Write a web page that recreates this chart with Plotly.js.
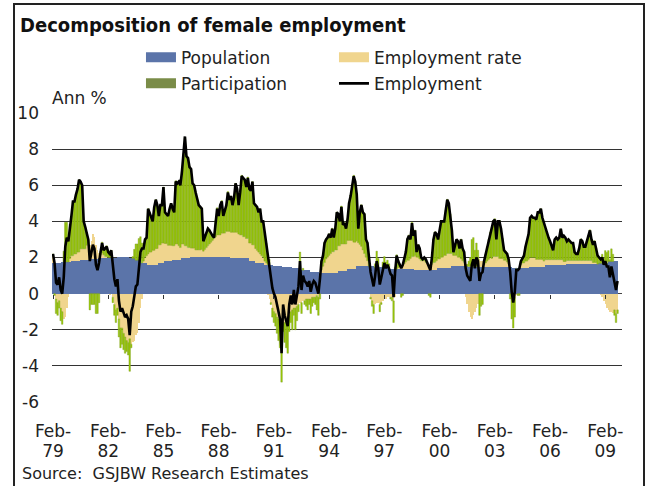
<!DOCTYPE html>
<html><head><meta charset="utf-8">
<script src="https://cdn.plot.ly/plotly-3.0.1.min.js"></script>
<style>
html,body{margin:0;padding:0;background:#fff;}
#chart{width:646px;height:486px;}
#frame{position:absolute;left:13px;top:3px;width:632px;height:600px;border:2px solid #222;box-sizing:border-box;pointer-events:none;}
</style></head><body>
<div id="chart"></div>
<div id="frame"></div>
<script>
const startYear = 1979;
const monthNames = ['Jan','Feb','Mar','Apr','May','Jun','Jul','Aug','Sep','Oct','Nov','Dec'];
const tickCats = ['Feb-79','Feb-82','Feb-85','Feb-88','Feb-91','Feb-94','Feb-97','Feb-00','Feb-03','Feb-06','Feb-09'];
const tickMonths = ['Feb-','Feb-','Feb-','Feb-','Feb-','Feb-','Feb-','Feb-','Feb-','Feb-','Feb-'];
const tickYears = ['79','82','85','88','91','94','97','00','03','06','09'];
const yTickVals = [-6,-4,-2,0,2,4,6,8,10];
const yTickText = ['-6','-4','-2','0','2','4','6','8','10'];

// Employment, annual % (monthly, Feb-79 .. Oct-09)
const employment = [
2.2,1.7,0.6,0.5,0.9,0.2,0.0,0.9,2.6,3.1,2.9,3.8,
4.3,5.1,5.1,5.5,5.8,6.3,6.2,6.0,4.0,3.7,3.4,3.0,
1.8,2.3,2.7,2.5,1.6,1.3,1.7,2.3,2.8,2.4,2.5,2.6,
2.3,2.2,2.4,1.5,0.8,0.4,0.8,-0.4,-1.0,-0.8,-1.1,-1.3,
-1.2,-1.4,-2.3,-1.0,-0.7,-0.2,0.4,0.5,1.4,2.3,2.5,2.5,
3.0,3.1,4.7,4.5,4.3,4.0,4.8,5.2,4.9,4.3,4.9,4.9,
5.9,4.5,4.4,4.3,4.7,5.0,4.7,4.5,6.2,6.1,6.2,6.0,
6.7,7.8,8.7,7.6,7.5,7.0,6.9,6.1,6.0,5.6,5.2,4.9,
4.8,4.7,2.9,3.1,3.3,3.6,3.5,3.3,3.2,3.1,4.0,4.7,
4.3,4.9,5.1,4.3,4.6,4.9,5.6,5.2,5.4,4.9,5.3,6.1,
5.8,4.9,5.6,6.5,6.4,6.3,5.9,6.4,5.8,5.7,6.2,5.0,
4.9,4.8,4.5,4.7,4.0,4.0,3.4,2.8,2.0,1.6,1.0,0.3,
0.0,-0.2,-0.6,-1.0,-1.4,-3.3,-0.6,-1.2,-1.5,-1.8,-0.6,-0.1,
-0.6,0.2,-0.6,-0.1,0.4,1.8,0.2,1.0,0.7,0.6,0.4,0.7,
0.1,0.5,0.7,0.6,0.3,0.0,0.8,1.8,2.1,2.8,3.0,3.1,
3.3,3.1,3.6,3.1,3.6,4.5,4.4,4.0,4.8,3.8,3.9,3.6,
4.1,5.0,5.4,6.0,6.5,6.2,5.5,3.6,4.5,4.9,4.5,4.4,
3.0,2.8,1.9,1.2,0.8,0.4,1.0,1.8,1.4,0.5,0.9,1.3,
1.7,1.4,1.6,1.4,1.1,1.0,-0.2,1.2,2.1,1.8,1.6,1.4,
1.6,1.9,2.3,3.0,3.2,3.0,3.9,3.2,3.5,2.3,2.7,2.5,
2.0,1.9,2.0,1.9,1.7,1.5,1.3,2.0,3.0,3.4,3.3,3.0,
3.4,4.0,4.0,4.0,4.6,5.2,5.0,4.4,3.5,2.3,2.7,3.0,
2.9,2.5,3.0,2.5,2.3,1.4,1.0,0.8,0.7,1.6,1.9,1.4,
2.0,1.8,0.7,1.1,1.2,1.8,2.2,2.6,3.0,3.4,3.6,4.0,
4.1,3.0,4.0,4.0,3.6,3.0,2.4,2.3,2.2,1.9,1.2,0.1,
-0.5,0.1,1.3,1.3,1.4,1.8,2.0,2.1,2.6,2.9,3.3,4.2,
4.3,4.2,4.2,4.1,4.5,4.5,4.7,4.2,3.9,3.6,3.3,3.1,
2.9,2.6,2.4,3.0,3.1,3.0,3.1,3.6,3.1,3.2,3.1,2.9,
3.0,2.9,2.8,2.8,2.3,2.2,2.2,2.5,3.0,2.9,2.6,2.6,
2.9,3.2,3.5,3.0,2.7,2.9,2.5,2.1,2.0,1.9,2.0,1.6,
1.8,1.5,1.5,0.9,1.5,1.1,0.6,0.2,0.7];

// Population contribution
const population = [
1.70,1.70,1.70,1.70,1.70,1.70,1.75,1.75,1.75,1.75,1.75,1.75,
1.80,1.80,1.80,1.80,1.80,1.80,1.88,1.88,1.88,1.88,1.88,1.88,
1.92,1.92,1.92,1.92,1.92,1.92,1.95,1.95,1.95,1.95,1.95,1.95,
2.00,2.00,2.00,2.00,2.00,2.00,2.03,2.03,2.03,2.03,2.03,2.03,
2.03,2.03,1.95,1.95,1.95,1.95,1.85,1.85,1.85,1.85,1.70,1.70,
1.70,1.70,1.60,1.60,1.60,1.60,1.60,1.60,1.60,1.70,1.70,1.70,
1.70,1.78,1.78,1.78,1.78,1.78,1.85,1.85,1.85,1.85,1.85,1.85,
1.95,1.95,1.95,1.95,1.95,1.95,2.02,2.02,2.02,2.02,2.02,2.02,
2.02,2.05,2.05,2.05,2.05,2.05,2.05,2.05,2.05,2.05,2.05,2.05,
2.05,2.05,2.05,2.05,2.05,2.05,2.05,2.05,2.00,2.00,2.00,2.00,
2.00,2.00,1.95,1.95,1.95,1.95,1.95,1.95,1.80,1.80,1.80,1.80,
1.70,1.70,1.70,1.70,1.70,1.70,1.60,1.60,1.60,1.60,1.60,1.60,
1.55,1.55,1.55,1.55,1.55,1.55,1.50,1.50,1.50,1.50,1.50,1.50,
1.40,1.40,1.40,1.40,1.40,1.40,1.30,1.30,1.30,1.30,1.30,1.30,
1.20,1.20,1.20,1.20,1.20,1.20,1.12,1.12,1.12,1.12,1.12,1.12,
1.12,1.12,1.12,1.12,1.12,1.12,1.25,1.25,1.25,1.25,1.25,1.25,
1.35,1.35,1.35,1.35,1.35,1.35,1.52,1.52,1.52,1.52,1.52,1.52,
1.52,1.52,1.52,1.52,1.52,1.52,1.45,1.45,1.45,1.45,1.45,1.45,
1.45,1.45,1.45,1.45,1.35,1.35,1.35,1.35,1.35,1.35,1.35,1.35,
1.35,1.35,1.35,1.35,1.35,1.35,1.35,1.35,1.32,1.32,1.32,1.32,
1.32,1.32,1.32,1.32,1.32,1.32,1.32,1.32,1.32,1.32,1.32,1.42,
1.42,1.42,1.42,1.42,1.42,1.42,1.42,1.42,1.52,1.52,1.52,1.52,
1.52,1.52,1.52,1.52,1.52,1.52,1.52,1.50,1.50,1.50,1.50,1.50,
1.50,1.50,1.50,1.50,1.50,1.50,1.50,1.50,1.50,1.50,1.45,1.45,
1.45,1.45,1.45,1.45,1.45,1.45,1.45,1.45,1.45,1.45,1.45,1.45,
1.40,1.40,1.40,1.40,1.40,1.40,1.40,1.40,1.40,1.40,1.40,1.50,
1.50,1.50,1.50,1.50,1.50,1.50,1.50,1.50,1.50,1.58,1.58,1.58,
1.58,1.58,1.58,1.58,1.58,1.58,1.58,1.58,1.58,1.58,1.58,1.63,
1.63,1.63,1.63,1.63,1.63,1.63,1.63,1.63,1.63,1.63,1.63,1.63,
1.63,1.63,1.63,1.63,1.63,1.63,1.63,1.63,1.68,1.68,1.68,1.68,
1.68,1.68,1.78,1.78,1.78,1.78,1.78,1.78,1.78];

// Employment-rate contribution
const employmentRate = [
0.4,0.1,-0.3,-0.5,-0.4,-0.8,-1.0,-1.4,-1.3,-0.8,-0.2,0.2,
0.3,0.3,0.4,0.4,0.5,0.5,0.6,0.6,0.6,0.6,0.8,0.9,
0.8,1.0,1.4,1.2,0.8,0.5,0.3,0.2,0.3,0.2,0.1,0.1,
0.0,-0.1,0.0,-0.2,-0.6,-0.9,-0.8,-1.4,-1.9,-1.9,-2.2,-2.4,
-2.6,-2.7,-2.5,-2.8,-2.7,-2.6,-2.3,-2.2,-1.6,-0.8,-0.3,0.1,
0.3,0.4,0.6,0.7,0.7,0.8,0.8,0.9,0.9,1.0,1.0,1.1,
1.1,1.0,1.0,0.9,0.9,0.9,0.8,0.8,0.9,0.9,0.8,0.7,
0.8,0.8,0.7,0.7,0.6,0.6,0.5,0.5,0.5,0.4,0.4,0.4,
0.4,0.4,0.3,0.4,0.5,0.6,0.7,0.8,0.9,1.0,1.1,1.2,
1.2,1.2,1.3,1.3,1.3,1.4,1.4,1.4,1.4,1.4,1.4,1.4,
1.4,1.3,1.3,1.3,1.2,1.2,1.1,1.1,1.0,1.0,0.9,0.9,
0.8,0.7,0.6,0.5,0.4,0.3,0.2,0.1,-0.1,-0.3,-0.5,-0.8,
-1.0,-1.1,-1.3,-1.4,-1.6,-1.7,-1.7,-1.6,-1.5,-1.4,-1.2,-1.0,
-0.9,-0.8,-0.8,-0.7,-0.6,-0.5,-0.5,-0.4,-0.4,-0.3,-0.3,-0.3,
-0.3,-0.2,-0.2,-0.2,-0.1,-0.2,0.0,0.2,0.4,0.6,0.8,0.9,
1.0,1.1,1.2,1.2,1.3,1.3,1.4,1.4,1.5,1.5,1.5,1.5,
1.6,1.6,1.6,1.6,1.5,1.5,1.4,1.3,1.2,1.1,0.9,0.7,
0.5,0.3,0.0,-0.2,-0.4,-0.6,-0.6,-0.5,-0.5,-0.6,-0.5,-0.4,
-0.3,-0.3,-0.2,-0.2,-0.2,-0.2,-0.4,-0.2,0.0,0.1,0.2,0.2,
0.3,0.3,0.4,0.5,0.5,0.6,0.7,0.7,0.8,0.7,0.7,0.6,
0.5,0.5,0.5,0.4,0.4,0.3,0.2,0.3,0.4,0.4,0.5,0.5,
0.5,0.6,0.6,0.7,0.7,0.8,0.8,0.8,0.7,0.6,0.6,0.6,
0.5,0.5,0.4,0.3,0.2,-0.2,-0.6,-1.0,-1.3,-1.4,-1.2,-1.0,
-0.8,-0.6,0.4,0.3,0.3,0.1,0.2,0.3,0.4,0.5,0.5,0.6,
0.6,0.6,0.6,0.5,0.5,0.5,0.4,0.4,0.3,0.2,0.0,-0.2,
-0.3,-0.2,-0.1,0.0,0.1,0.2,0.3,0.3,0.4,0.4,0.5,0.5,
0.5,0.5,0.5,0.4,0.4,0.4,0.4,0.4,0.3,0.3,0.3,0.3,
0.3,0.3,0.3,0.3,0.3,0.3,0.3,0.3,0.3,0.2,0.2,0.2,
0.2,0.2,0.2,0.2,0.2,0.2,0.2,0.2,0.2,0.2,0.2,0.2,
0.2,0.2,0.2,0.2,0.1,0.1,0.1,0.0,0.0,-0.1,-0.2,-0.4,
-0.6,-0.8,-0.9,-1.0,-1.0,-1.1,-0.9,-1.1,-0.9];

// Participation contribution
const participation = [
0.1,-0.1,-0.8,-0.7,-0.4,-0.7,-0.7,0.6,2.2,2.2,1.4,1.9,
2.2,3.0,2.9,3.3,3.5,4.0,3.7,3.5,1.5,1.2,0.7,0.2,
-0.9,-0.6,-0.6,-0.6,-1.1,-1.1,-0.5,0.2,0.6,0.3,0.5,0.6,
0.3,0.3,0.4,-0.3,-0.6,-0.7,-0.4,-1.0,-1.1,-0.9,-0.9,-0.9,
-0.6,-0.7,-1.8,-0.2,0.1,0.5,0.9,0.9,1.2,1.3,1.1,0.7,
1.0,1.0,2.5,2.2,2.0,1.6,2.4,2.7,2.4,1.6,2.2,2.1,
3.1,1.7,1.6,1.6,2.0,2.3,2.1,1.9,3.5,3.4,3.6,3.5,
4.0,5.0,6.0,5.0,5.0,4.5,4.4,3.6,3.5,3.2,2.8,2.5,
2.4,2.3,0.6,0.7,0.8,1.0,0.8,0.5,0.3,0.1,0.9,1.5,
1.1,1.7,1.8,1.0,1.3,1.5,2.2,1.8,2.0,1.5,1.9,2.7,
2.4,1.6,2.4,3.3,3.3,3.2,2.9,3.4,3.0,2.9,3.5,2.3,
2.4,2.4,2.2,2.5,1.9,2.0,1.6,1.1,0.5,0.3,-0.1,-0.5,
-0.6,-0.7,-0.9,-1.2,-1.4,-3.2,-0.4,-1.1,-1.5,-1.9,-0.9,-0.6,
-1.1,-0.4,-1.2,-0.8,-0.4,0.9,-0.6,0.1,-0.2,-0.4,-0.6,-0.3,
-0.8,-0.5,-0.3,-0.4,-0.8,-1.0,-0.3,0.5,0.6,1.1,1.1,1.1,
1.2,0.9,1.3,0.8,1.2,2.1,1.8,1.4,2.1,1.1,1.2,0.9,
1.2,2.1,2.5,3.1,3.7,3.4,2.6,0.8,1.8,2.3,2.1,2.2,
1.0,1.0,0.4,-0.1,-0.3,-0.5,0.2,0.9,0.5,-0.4,-0.1,0.3,
0.6,0.3,0.4,0.2,-0.1,-0.2,-1.2,0.1,0.8,0.4,0.1,-0.2,
-0.1,0.3,0.6,1.2,1.4,1.1,1.9,1.2,1.4,0.3,0.7,0.6,
0.2,0.1,0.2,0.2,0.0,-0.1,-0.2,0.4,1.3,1.7,1.5,1.1,
1.5,2.0,2.0,1.9,2.5,3.0,2.8,2.2,1.3,0.2,0.6,0.9,
0.9,0.5,1.1,0.7,0.6,0.1,0.1,0.3,0.5,1.5,1.6,0.9,
1.3,0.9,-1.2,-0.7,-0.6,0.2,0.5,0.8,1.1,1.4,1.7,2.0,
2.1,1.0,2.0,2.1,1.7,1.1,0.6,0.5,0.5,0.3,-0.3,-1.2,
-1.6,-1.1,0.0,-0.1,-0.1,0.2,0.3,0.4,0.8,1.1,1.4,2.2,
2.3,2.2,2.2,2.2,2.6,2.6,2.8,2.3,2.1,1.7,1.4,1.2,
1.0,0.7,0.5,1.1,1.2,1.1,1.2,1.7,1.2,1.4,1.3,1.1,
1.2,1.1,1.0,1.0,0.5,0.4,0.4,0.7,1.2,1.1,0.8,0.8,
1.1,1.4,1.7,1.2,1.0,1.2,0.8,0.5,0.3,0.3,0.5,0.3,
0.7,0.6,0.6,0.1,0.7,0.4,-0.3,-0.5,-0.2];

// Month categories Feb-79 onward
const months = employment.map((_, i) => {
  const t = 1 + i; // Feb = index 1
  const mi = t % 12;
  const yr = startYear + Math.floor(t / 12);
  return monthNames[mi] + '-' + String(yr).slice(2);
});
const tickIdx = tickCats.map(c => months.indexOf(c));

const FONT = 'DejaVu Sans, Verdana, sans-serif';
const BLUE = '#5b74a9', TAN = '#f0d58e', OLIVE = '#7a8c48', LIME = '#99cc00';
const xr = [-0.65, 370.9];

const traces = [
  {type:'bar', x:months, y:population, name:'Population', marker:{color:BLUE}, showlegend:false, hoverinfo:'skip'},
  {type:'bar', x:months, y:employmentRate, name:'Employment rate', marker:{color:TAN}, showlegend:false, hoverinfo:'skip'},
  {type:'bar', x:months, y:participation, name:'Participation', marker:{color:LIME, line:{color:'#7f9a2c', width:0.4}}, showlegend:false, hoverinfo:'skip'},
  {type:'scatter', mode:'lines', x:[null], y:[null], xaxis:'x3', name:'Population', line:{color:BLUE, width:10}, legend:'legend'},
  {type:'scatter', mode:'lines', x:[null], y:[null], xaxis:'x3', name:'Employment rate', line:{color:TAN, width:10}, legend:'legend2'},
  {type:'scatter', mode:'lines', x:[null], y:[null], xaxis:'x3', name:'Participation', line:{color:OLIVE, width:10}, legend:'legend3'},
  {type:'scatter', mode:'lines', x:months, y:employment, xaxis:'x2', name:'Employment', line:{color:'#000', width:2.6}, legend:'legend4'}
];

const legFont = {family:FONT, size:17, color:'#222'};
const mkLeg = (x, y) => ({x:x, y:y, xanchor:'left', yanchor:'middle', bgcolor:'rgba(0,0,0,0)', font:legFont, borderwidth:0});
const tickFont = {family:FONT, size:17, color:'#222'};

const layout = {
  width:646, height:486,
  paper_bgcolor:'#fff', plot_bgcolor:'#fff',
  margin:{l:52, r:24, t:113, b:84},
  barmode:'relative', bargap:0,
  title:{text:'Decomposition of female employment', font:{family:'DejaVu Sans Condensed, DejaVu Sans, sans-serif', size:20, color:'#111', weight:'bold'},
         x:20/646, xref:'container', xanchor:'left', y:1-25/486, yref:'container', yanchor:'middle'},
  xaxis:{type:'category', range:xr, tickmode:'array', tickvals:tickCats, ticktext:tickMonths,
         showgrid:false, zeroline:false, showline:false, ticks:'', tickangle:0,
         ticklabelstandoff:17, tickfont:tickFont},
  xaxis2:{type:'category', overlaying:'x', anchor:'free', position:0.375, range:xr,
          tickmode:'array', tickvals:tickCats, showticklabels:false, ticks:'outside', ticklen:4,
          tickcolor:'#333', tickwidth:1, showgrid:false, zeroline:false, showline:false},
  xaxis3:{type:'linear', overlaying:'x', anchor:'y', side:'bottom', range:xr,
          tickmode:'array', tickvals:tickIdx, ticktext:tickYears, ticks:'', tickangle:0,
          showgrid:false, zeroline:false, showline:false, ticklabelstandoff:37, tickfont:tickFont},
  yaxis:{range:[-6,10], tickmode:'array', tickvals:yTickVals, ticktext:yTickText, showgrid:true, gridcolor:'#333', gridwidth:1,
         zeroline:true, zerolinecolor:'#444', zerolinewidth:1, showline:false, ticks:'',
         ticklabelstandoff:12, tickfont:tickFont},
  legend:mkLeg(0.1561, 1.191),
  legend2:mkLeg(0.4947, 1.191),
  legend3:mkLeg(0.1561, 1.101),
  legend4:mkLeg(0.4947, 1.101),
  annotations:[
    {text:'Ann %', xref:'paper', yref:'paper', x:-0.0035, y:1.052, xanchor:'left', yanchor:'middle',
     showarrow:false, font:{family:FONT, size:17, color:'#222'}},
    {text:'Source:\u00a0 GSJBW Research Estimates', xref:'paper', yref:'paper', x:-0.0561, y:-0.2475,
     xanchor:'left', yanchor:'middle', showarrow:false, font:{family:FONT, size:16, color:'#222'}}
  ]
};

Plotly.newPlot('chart', traces, layout, {displayModeBar:false, staticPlot:true});
</script>
</body></html>
